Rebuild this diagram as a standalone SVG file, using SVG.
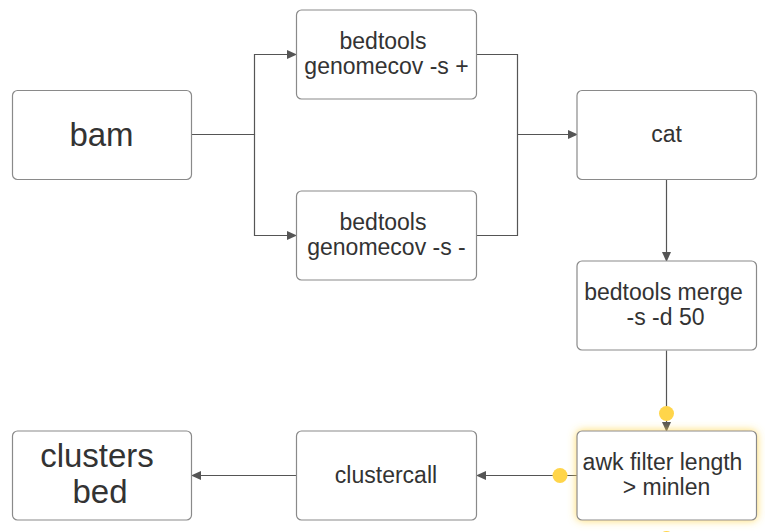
<svg xmlns="http://www.w3.org/2000/svg" width="765" height="532" viewBox="0 0 765 532">
<style>
.node rect{fill:#fff;stroke:#8a8a8a;stroke-width:1.2}
.t{font-family:"Liberation Sans",Arial,sans-serif;font-size:23px;fill:#333;text-anchor:middle}
.big{font-size:33px}
.edge{fill:none;stroke:#555;stroke-width:1.2}
.dot{fill:#ffd54a}
</style>
<defs>
<marker id="arr" markerWidth="10" markerHeight="10" refX="9" refY="5" orient="auto" markerUnits="userSpaceOnUse">
<path d="M0,0.5 L10,5 L0,9.5 z" fill="#555"/>
</marker>
<filter id="glow" x="-20%" y="-20%" width="140%" height="140%">
<feDropShadow dx="0" dy="0" stdDeviation="4.5" flood-color="#ffd54a" flood-opacity="0.85"/>
</filter>
</defs>
<g id="connectors">
<path class="edge" d="M191.5,134.5 H254.5 V54.5 H296" marker-end="url(#arr)"/>
<path class="edge" d="M254.5,134.5 V235.5 H296" marker-end="url(#arr)"/>
<path class="edge" d="M476.5,54.5 H517.5 V235.5 H476.5"/>
<path class="edge" d="M517.5,134.5 H577" marker-end="url(#arr)"/>
<path class="edge" d="M666.5,179.5 V261" marker-end="url(#arr)"/>
<path class="edge" d="M666.5,350.5 V431" marker-end="url(#arr)"/>
<path class="edge" d="M577,475.5 H477" marker-end="url(#arr)"/>
<path class="edge" d="M296,475.5 H192" marker-end="url(#arr)"/>
</g>
<g id="bam" class="node">
<rect x="12.5" y="90.5" width="179" height="89" rx="5"/>
<text class="t big" x="101.5" y="146">bam</text>
</g>
<g id="genomecov-plus" class="node">
<rect x="296.5" y="10" width="180" height="89" rx="5"/>
<text class="t" x="383" y="49">bedtools</text>
<text class="t" x="386.5" y="74">genomecov -s +</text>
</g>
<g id="genomecov-minus" class="node">
<rect x="296.5" y="191" width="180" height="89" rx="5"/>
<text class="t" x="383" y="230">bedtools</text>
<text class="t" x="386.5" y="255">genomecov -s -</text>
</g>
<g id="cat" class="node">
<rect x="577" y="90.5" width="179.5" height="89" rx="5"/>
<text class="t" x="666.5" y="142">cat</text>
</g>
<g id="merge" class="node">
<rect x="577" y="261" width="179.5" height="89" rx="5"/>
<text class="t" x="663.5" y="300">bedtools merge</text>
<text class="t" x="665.5" y="325">-s -d 50</text>
</g>
<g id="awk" class="node">
<rect x="577" y="431" width="179.5" height="89" rx="5" filter="url(#glow)"/>
<text class="t" x="662.5" y="470">awk filter length</text>
<text class="t" x="666.5" y="495">&gt; minlen</text>
</g>
<g id="clustercall" class="node">
<rect x="296.5" y="431" width="180" height="89" rx="5"/>
<text class="t" x="386" y="483">clustercall</text>
</g>
<g id="clusters-bed" class="node">
<rect x="12.5" y="431" width="179" height="89" rx="5"/>
<text class="t big" x="97" y="467">clusters</text>
<text class="t big" x="100" y="503">bed</text>
</g>
<g id="handles">
<circle class="dot" cx="666.5" cy="413.5" r="7.5"/>
<circle class="dot" cx="560" cy="475.5" r="7.5"/>
<circle class="dot" cx="666.5" cy="538.5" r="7.5"/>
<circle class="dot" cx="774" cy="475.5" r="7.5"/>
</g>
</svg>
